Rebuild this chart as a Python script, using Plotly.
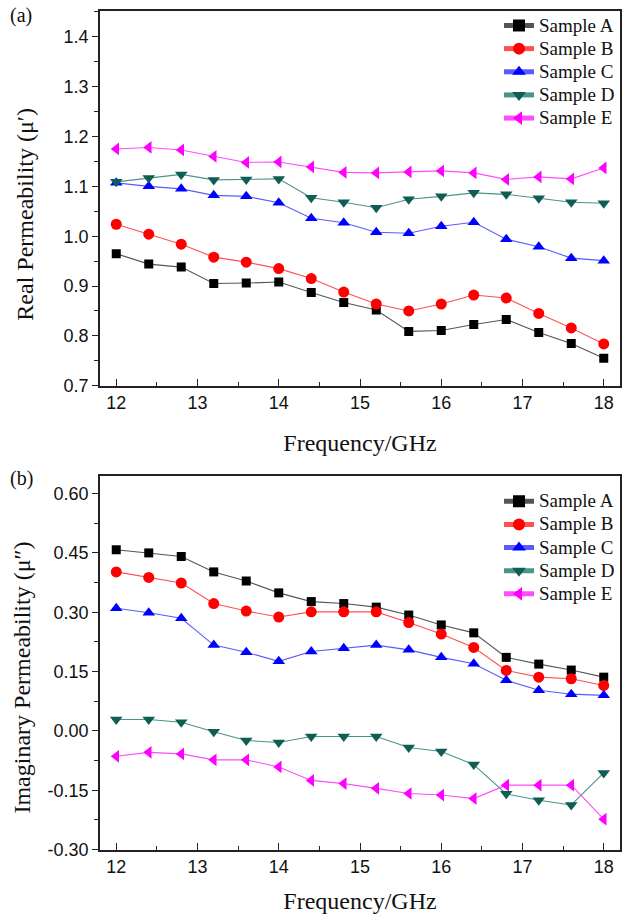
import plotly.graph_objects as go

freq = [12.0, 12.4, 12.8, 13.2, 13.6, 14.0, 14.4, 14.8, 15.2, 15.6, 16.0, 16.4, 16.8, 17.2, 17.6, 18.0]

real_A = [0.965, 0.944, 0.938, 0.905, 0.906, 0.908, 0.887, 0.867, 0.852, 0.809, 0.811, 0.823, 0.833, 0.807, 0.785, 0.755]
real_B = [1.024, 1.004, 0.984, 0.958, 0.948, 0.935, 0.915, 0.888, 0.864, 0.850, 0.864, 0.882, 0.876, 0.845, 0.816, 0.784]
real_C = [1.107, 1.100, 1.095, 1.082, 1.080, 1.067, 1.036, 1.027, 1.008, 1.006, 1.020, 1.028, 0.994, 0.979, 0.956, 0.951]
real_D = [1.109, 1.117, 1.124, 1.113, 1.114, 1.115, 1.077, 1.068, 1.057, 1.074, 1.080, 1.087, 1.084, 1.076, 1.068, 1.066]
real_E = [1.175, 1.178, 1.173, 1.160, 1.148, 1.149, 1.139, 1.128, 1.127, 1.129, 1.131, 1.127, 1.114, 1.119, 1.115, 1.137]

imag_A = [0.458, 0.450, 0.441, 0.402, 0.379, 0.349, 0.327, 0.322, 0.313, 0.293, 0.268, 0.248, 0.186, 0.169, 0.154, 0.136]
imag_B = [0.402, 0.388, 0.374, 0.322, 0.303, 0.288, 0.301, 0.301, 0.301, 0.274, 0.245, 0.211, 0.153, 0.136, 0.132, 0.115]
imag_C = [0.310, 0.299, 0.285, 0.217, 0.199, 0.176, 0.201, 0.209, 0.217, 0.205, 0.186, 0.170, 0.128, 0.103, 0.093, 0.090]
imag_D = [0.029, 0.029, 0.022, -0.002, -0.024, -0.029, -0.014, -0.014, -0.014, -0.042, -0.052, -0.085, -0.159, -0.175, -0.187, -0.106]
imag_E = [-0.064, -0.054, -0.058, -0.073, -0.073, -0.091, -0.125, -0.133, -0.145, -0.158, -0.162, -0.171, -0.137, -0.137, -0.137, -0.223]

names = ["Sample A", "Sample B", "Sample C", "Sample D", "Sample E"]
marker_colors = ["#000000", "#FF0000", "#0000FF", "#0E5E55", "#FF00FF"]
line_colors = ["#555555", "#FF5050", "#5a5aff", "#4a9489", "#FF4CFF"]
symbols = ["square", "circle", "triangle-up", "triangle-down", "triangle-left"]
sizes = [9, 11, 11, 11, 11]

fig = go.Figure()

real_sets = [real_A, real_B, real_C, real_D, real_E]
imag_sets = [imag_A, imag_B, imag_C, imag_D, imag_E]


def legend_label(n):
    return '<span style="font-size:19px">' + n + '</span>'


for i in range(5):
    fig.add_trace(go.Scatter(
        x=freq, y=real_sets[i], name=legend_label(names[i]), mode="lines+markers",
        line=dict(color=line_colors[i], width=1.1),
        marker=dict(symbol=symbols[i], size=sizes[i], color=marker_colors[i]),
        xaxis="x", yaxis="y", legend="legend"))
for i in range(5):
    fig.add_trace(go.Scatter(
        x=freq, y=imag_sets[i], name=legend_label(names[i]), mode="lines+markers",
        line=dict(color=line_colors[i], width=1.1),
        marker=dict(symbol=symbols[i], size=sizes[i], color=marker_colors[i]),
        xaxis="x2", yaxis="y2", legend="legend2"))

SANS = "Arial, 'Liberation Sans', sans-serif"
SERIF = "'Times New Roman', 'Liberation Serif', serif"
tick_font = dict(family=SANS, size=18, color="#111111")
title_font = dict(family=SERIF, size=24, color="#111111")
legend_font = dict(family=SERIF, size=15.5, color="#111111")

common_x = dict(
    range=[11.8, 18.2], tickmode="array", tickvals=[12, 13, 14, 15, 16, 17, 18],
    ticks="inside", ticklen=7, tickwidth=1.3, tickcolor="#222222",
    minor=dict(tickvals=[12.5, 13.5, 14.5, 15.5, 16.5, 17.5], ticks="inside", ticklen=4, tickwidth=1.3, tickcolor="#222222"),
    showline=True, linecolor="#222222", linewidth=1.6, mirror=True,
    showgrid=False, zeroline=False, tickfont=tick_font,
)

fig.update_layout(
    width=629, height=920,
    margin=dict(l=0, r=0, t=0, b=0),
    paper_bgcolor="white", plot_bgcolor="white",
    xaxis=dict(domain=[100/629, 620/629], anchor="y",
               title=dict(text="Frequency/GHz", font=title_font, standoff=22), **common_x),
    xaxis2=dict(domain=[100/629, 620/629], anchor="y2",
                title=dict(text="Frequency/GHz", font=title_font, standoff=16), **common_x),
    yaxis=dict(
        domain=[1 - 390/920, 1 - 11/920], anchor="x",
        range=[0.7, 1.452], tickmode="array", tickvals=[0.7, 0.8, 0.9, 1.0, 1.1, 1.2, 1.3, 1.4],
        ticktext=["0.7", "0.8", "0.9", "1.0", "1.1", "1.2", "1.3", "1.4"],
        ticks="outside", ticklen=6, tickwidth=1.3, tickcolor="#222222",
        minor=dict(tickvals=[0.75, 0.85, 0.95, 1.05, 1.15, 1.25, 1.35, 1.45], ticks="outside", ticklen=4, tickwidth=1.3, tickcolor="#222222"),
        showline=True, linecolor="#222222", linewidth=1.6, mirror=True,
        showgrid=False, zeroline=False, tickfont=tick_font,
    ),
    yaxis2=dict(
        domain=[1 - 859/920, 1 - 481/920], anchor="x2",
        range=[-0.30, 0.645], tickmode="array", tickvals=[-0.30, -0.15, 0.0, 0.15, 0.30, 0.45, 0.60],
        ticktext=["-0.30", "-0.15", "0.00", "0.15", "0.30", "0.45", "0.60"],
        ticks="outside", ticklen=6, tickwidth=1.3, tickcolor="#222222",
        minor=dict(tickvals=[-0.225, -0.075, 0.075, 0.225, 0.375, 0.525], ticks="outside", ticklen=4, tickwidth=1.3, tickcolor="#222222"),
        showline=True, linecolor="#222222", linewidth=1.6, mirror=True,
        showgrid=False, zeroline=False, tickfont=tick_font,
    ),
    legend=dict(x=620/629, xanchor="right", y=1 - 9/920, yanchor="top",
                bgcolor="rgba(0,0,0,0)", font=legend_font,
                tracegroupgap=0, itemsizing="constant"),
    legend2=dict(x=620/629, xanchor="right", y=1 - 490/920, yanchor="top",
                 bgcolor="rgba(0,0,0,0)", font=legend_font,
                 tracegroupgap=0, itemsizing="constant"),
    annotations=[
        dict(text="(a)", x=8/629, y=1 - 16/920, xref="paper", yref="paper", xanchor="left", yanchor="middle",
             showarrow=False, font=dict(family=SERIF, size=20, color="#111111")),
        dict(text="(b)", x=8/629, y=1 - 484/920, xref="paper", yref="paper", xanchor="left", yanchor="middle",
             showarrow=False, font=dict(family=SERIF, size=20, color="#111111")),
        dict(text="Real Permeability (\u03bc\u2032)", x=25/629, y=1 - 217/920, xref="paper", yref="paper",
             xanchor="center", yanchor="middle", textangle=-90, showarrow=False, font=title_font),
        dict(text="Imaginary Permeability (\u03bc\u2033)", x=22/629, y=1 - 685/920, xref="paper", yref="paper",
             xanchor="center", yanchor="middle", textangle=-90, showarrow=False, font=title_font),
    ],
)

fig.write_html("out.html")
